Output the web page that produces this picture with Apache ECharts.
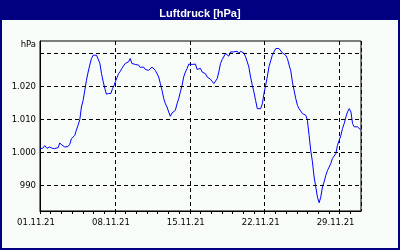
<!DOCTYPE html>
<html><head><meta charset="utf-8">
<script src="https://cdn.jsdelivr.net/npm/echarts@6/dist/echarts.min.js"></script>
<style>html,body{margin:0;padding:0;background:#f8fcf8}#c{width:400px;height:250px}</style>
</head><body><div id="c"></div>
<script>
// time in days since 01.11.21 00:00
const days = [0.00,0.25,0.44,0.65,0.90,1.15,1.35,1.53,1.70,1.84,2.05,2.31,2.60,2.78,2.94,3.10,3.25,3.40,3.56,3.72,3.87,4.03,4.19,4.34,4.50,4.65,4.81,4.97,5.12,5.28,5.44,5.60,5.75,5.91,6.06,6.21,6.40,6.62,6.78,6.93,7.03,7.20,7.34,7.50,7.65,7.80,7.97,8.12,8.28,8.43,8.59,8.75,8.90,9.06,9.22,9.37,9.53,9.68,9.84,10.00,10.15,10.31,10.47,10.62,10.78,10.93,11.09,11.25,11.40,11.56,11.72,11.87,12.03,12.18,12.34,12.50,12.65,12.81,12.97,13.12,13.28,13.43,13.59,13.75,13.90,14.06,14.22,14.37,14.53,14.68,14.84,15.00,15.15,15.31,15.46,15.62,15.78,15.93,16.09,16.25,16.40,16.56,16.71,16.87,17.03,17.18,17.34,17.50,17.65,17.81,17.96,18.12,18.28,18.43,18.59,18.74,18.90,19.05,19.21,19.37,19.52,19.68,19.84,19.99,20.15,20.31,20.46,20.62,20.78,20.93,21.09,21.24,21.40,21.56,21.71,21.87,22.03,22.18,22.34,22.50,22.65,22.81,22.96,23.12,23.28,23.43,23.59,23.74,23.90,24.06,24.21,24.37,24.53,24.68,24.84,24.99,25.15,25.30,25.46,25.62,25.77,25.93,26.09,26.24,26.40,26.55,26.71,26.87,27.02,27.18,27.33,27.49,27.65,27.80,27.96,28.12,28.27,28.43,28.59,28.74,28.90,29.06,29.21,29.37,29.52,29.68,29.83,29.99];
const pressure = [1001.2,1001.3,1002.1,1001.3,1001.7,1001.3,1001.2,1000.7,1001.5,1002.9,1002.3,1001.7,1001.8,1002.5,1004.2,1004.7,1005.2,1006.8,1008.3,1010.0,1013.8,1015.8,1018.9,1021.9,1024.4,1026.5,1028.5,1029.5,1029.8,1029.5,1029.5,1027.0,1023.9,1021.4,1019.4,1017.7,1017.9,1017.9,1019.4,1020.4,1021.4,1022.7,1023.9,1024.6,1025.5,1026.2,1027.0,1027.3,1027.5,1028.5,1027.0,1026.9,1026.7,1026.6,1026.5,1025.8,1025.5,1025.9,1025.2,1025.8,1024.9,1025.5,1025.9,1025.5,1024.9,1024.4,1022.9,1020.9,1018.9,1016.4,1014.8,1013.8,1012.3,1011.0,1012.0,1012.4,1012.8,1014.8,1016.4,1018.4,1020.4,1022.9,1024.4,1025.5,1026.8,1026.6,1026.7,1026.5,1026.8,1025.2,1025.8,1025.5,1024.4,1024.7,1023.9,1022.9,1022.4,1022.2,1021.7,1020.9,1021.4,1022.4,1024.4,1027.0,1028.2,1028.8,1030.0,1029.5,1029.2,1030.5,1030.0,1030.5,1030.2,1030.7,1030.0,1030.7,1030.5,1030.2,1029.0,1027.5,1025.9,1022.9,1020.4,1018.4,1015.8,1013.3,1013.0,1013.3,1014.8,1017.9,1020.4,1022.9,1026.0,1027.8,1029.5,1030.5,1031.5,1031.2,1031.5,1031.0,1030.2,1030.0,1029.5,1028.5,1026.5,1024.9,1021.4,1018.9,1016.4,1014.3,1013.3,1012.8,1011.8,1011.6,1011.3,1009.8,1005.2,1000.7,997.2,992.6,989.6,986.5,984.8,986.5,989.6,991.1,993.1,994.6,995.6,996.7,998.2,998.7,999.7,1002.2,1003.7,1005.2,1007.3,1008.8,1010.8,1012.3,1013.3,1012.3,1008.8,1007.8,1007.3,1007.8,1008.0,1006.8];
const tickDays = [0, 7, 14, 21, 28];
const tickLabels = ['01.11.21', '08.11.21', '15.11.21', '22.11.21', '29.11.21'];
const yTicks = [990, 1000, 1010, 1020];
const yGrid = [990, 1000, 1010, 1020, 1030];
const yLabels = ['990', '1.000', '1.010', '1.020'];

const chart = echarts.init(document.getElementById('c'), null, {renderer: 'canvas'});
const font = 'DejaVu Sans';
chart.setOption({
  animation: false,
  backgroundColor: '#f8fcf8',
  graphic: [
    {type: 'rect', z: 0, shape: {x: 0, y: 0, width: 400, height: 20}, style: {fill: '#000080'}},
    {type: 'rect', z: 0, shape: {x: 1, y: 1, width: 398, height: 248}, style: {fill: 'none', stroke: '#000080', lineWidth: 2}}
  ],
  title: {
    text: 'Luftdruck [hPa]', left: 'center', top: 3, z: 10,
    textStyle: {color: '#fff', fontFamily: 'Liberation Sans', fontWeight: 'bold', fontSize: 11}
  },
  grid: {left: 40, right: 39, top: 41, bottom: 39, show: true, borderColor: '#000', borderWidth: 1, backgroundColor: 'transparent'},
  xAxis: [
    {
      type: 'value', min: 0, max: 30, interval: 1, position: 'bottom',
      axisLine: {show: true, onZero: false, lineStyle: {color: '#000', width: 1}},
      axisTick: {show: true, length: 3, lineStyle: {color: '#000'}},
      splitLine: {show: false},
      axisLabel: {
        show: true, margin: 7, color: '#000', fontFamily: font, fontSize: 8.5, padding: [0, 8, 0, 0],
        showMaxLabel: false,
        formatter: v => { const i = tickDays.indexOf(Math.round(v)); return i >= 0 ? tickLabels[i] : ''; }
      }
    },
    {
      type: 'value', min: 0, max: 30, interval: 7, position: 'bottom',
      axisLine: {show: false}, axisTick: {show: false}, axisLabel: {show: false},
      splitLine: {show: true, lineStyle: {color: '#000', type: [4, 3], width: 1}}
    }
  ],
  yAxis: {
    type: 'value', min: 982.3, max: 1033.8,
    name: 'hPa', nameLocation: 'end', nameGap: -4,
    nameTextStyle: {color: '#000', fontFamily: font, fontSize: 8.5, align: 'right', verticalAlign: 'middle', padding: [0, 4, 0, 0]},
    axisLine: {show: true, lineStyle: {color: '#000', width: 1}},
    axisTick: {show: false},
    splitLine: {show: false},
    axisLabel: {
      show: true, margin: 4, color: '#000', fontFamily: font, fontSize: 8.5,
      customValues: yTicks,
      formatter: v => { const i = yTicks.indexOf(Math.round(v)); return i >= 0 ? yLabels[i] : ''; }
    }
  },
  series: [
    {
      type: 'line', xAxisIndex: 0, data: [], z: 1, silent: true,
      markLine: {
        silent: true, symbol: 'none', label: {show: false},
        lineStyle: {color: '#000', type: [4, 3], width: 1},
        data: yGrid.map(v => ({yAxis: v}))
      }
    },
    {
      type: 'line', xAxisIndex: 0, z: 3, showSymbol: false, symbol: 'none',
      lineStyle: {color: '#0000ff', width: 1},
      data: days.map((d, i) => [d, pressure[i]])
    }
  ]
});
</script>
</body></html>
